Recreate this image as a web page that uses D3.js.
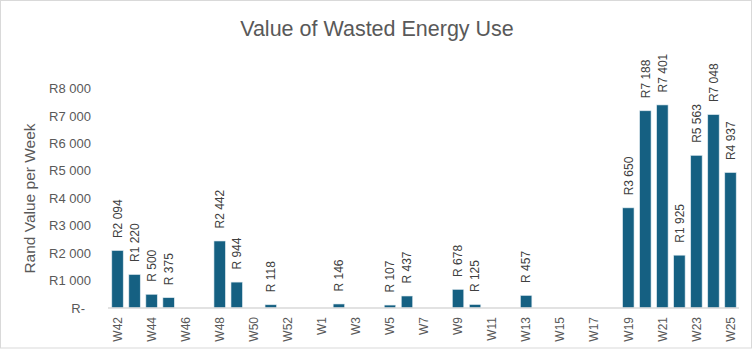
<!DOCTYPE html>
<html>
<head>
<meta charset="utf-8">
<script src="https://cdn.jsdelivr.net/npm/d3@7"></script>
<style>
  html, body { margin: 0; padding: 0; background: #fff; }
  text { font-family: "Liberation Sans", Arial, sans-serif; }
</style>
</head>
<body>
<div id="chart"></div>
<script>
// weeks on the category axis (W53 exists but its label is skipped)
const weeks = [
  'W42', 'W43', 'W44', 'W45', 'W46', 'W47', 'W48', 'W49', 'W50', 'W51', 'W52', 'W53',
  'W1', 'W2', 'W3', 'W4', 'W5', 'W6', 'W7', 'W8', 'W9', 'W10', 'W11', 'W12', 'W13',
  'W14', 'W15', 'W16', 'W17', 'W18', 'W19', 'W20', 'W21', 'W22', 'W23', 'W24', 'W25',
];
// rand value per week, null = nothing recorded
const wasteValue = [
  2094, 1220, 500, 375, null, null, 2442, 944, null, 118, null, null,
  null, 146, null, null, 107, 437, null, null, 678, 125, null, null, 457,
  null, null, null, null, null, 3650, 7188, 7401, 1925, 5563, 7048, 4937,
];
const yTicks = [0, 1000, 2000, 3000, 4000, 5000, 6000, 7000, 8000];

const width = 754;
const height = 351;
const data = weeks.map((w, i) => ({ week: w, value: wasteValue[i] }));

const svg = d3.select('#chart').append('svg').attr('width', width).attr('height', height);

// chart border
svg.append('rect')
  .attr('x', 0.5).attr('y', 0.5)
  .attr('width', 751).attr('height', 347.5)
  .attr('fill', '#fff')
  .attr('stroke', '#d9d9d9');

const x = d3.scaleBand()
  .domain(weeks)
  .range([109, 739])
  .paddingInner(0.33)
  .paddingOuter(0.165);

const y = d3.scaleLinear()
  .domain([0, 8000])
  .range([308, 88.5]);

// accounting style: R2 094, R 500, R-
const thousands = (v) => d3.format(',')(v).replace(/,/g, ' ');
const randLabel = (v) => (v >= 1000 ? `R${thousands(v)}` : `R ${v}`);

// title
svg.append('text')
  .attr('x', 377)
  .attr('y', 36)
  .attr('text-anchor', 'middle')
  .style('font-size', '21.5px')
  .style('fill', '#595959')
  .text('Value of Wasted Energy Use');

// y axis title
svg.append('text')
  .attr('transform', 'translate(35,198.5) rotate(-90)')
  .attr('text-anchor', 'middle')
  .style('font-size', '15.5px')
  .style('fill', '#595959')
  .text('Rand Value per Week');

// y axis labels (no line)
const yAxis = svg.append('g')
  .attr('transform', 'translate(91,0)')
  .call(d3.axisLeft(y).tickValues(yTicks).tickSize(0).tickPadding(0)
    .tickFormat((d) => (d === 0 ? 'R-' : `R${thousands(d)}`)));
yAxis.select('.domain').remove();
yAxis.selectAll('text')
  .style('font-size', '13px')
  .style('font-family', '"Liberation Sans", Arial, sans-serif')
  .style('fill', '#595959')
  .attr('dx', (d) => (d === 0 ? -6 : 0));

// bars
svg.append('g')
  .selectAll('rect')
  .data(data.filter((d) => d.value != null))
  .enter()
  .append('rect')
  .attr('x', (d) => x(d.week))
  .attr('y', (d) => y(d.value))
  .attr('width', x.bandwidth())
  .attr('height', (d) => y(0) - y(d.value))
  .attr('fill', '#156082')
  .attr('stroke', '#dce8ef')
  .attr('stroke-width', 0.6);

// category axis, every second label
const xAxis = svg.append('g')
  .attr('transform', `translate(0,${y(0)})`)
  .call(d3.axisBottom(x).tickSize(0).tickPadding(0)
    .tickValues(weeks.filter((w, i) => i % 2 === 0)));
xAxis.select('.domain')
  .attr('stroke', '#d9d9d9')
  .attr('stroke-width', 1.3)
  .attr('d', 'M108,0H739');
xAxis.selectAll('text')
  .attr('transform', 'rotate(-90)')
  .attr('x', -9)
  .attr('y', 0)
  .attr('dy', '0.35em')
  .attr('text-anchor', 'end')
  .style('font-size', '12px')
  .style('font-family', '"Liberation Sans", Arial, sans-serif')
  .style('fill', '#595959');

// data labels
svg.append('g')
  .selectAll('text')
  .data(data.filter((d) => d.value != null))
  .enter()
  .append('text')
  .attr('transform', (d) => `translate(${x(d.week) + x.bandwidth() / 2},${y(d.value) - 12.5}) rotate(-90)`)
  .attr('dy', '0.35em')
  .attr('text-anchor', 'start')
  .style('font-size', '12px')
  .style('fill', '#404040')
  .text((d) => randLabel(d.value));
</script>
</body>
</html>
